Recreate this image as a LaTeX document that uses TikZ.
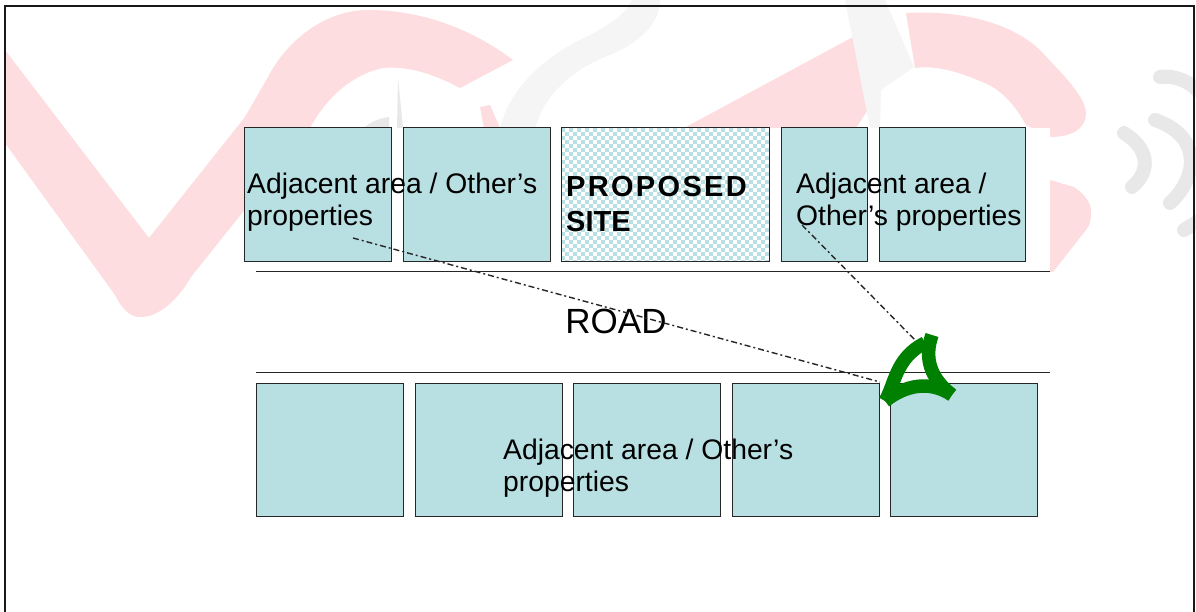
\documentclass[tikz,border=0pt]{standalone}
\usepackage{fontspec}
\setmainfont{Liberation Sans}
\definecolor{boxfill}{RGB}{184,223,226}
\definecolor{wmpink}{RGB}{253,221,224}
\definecolor{wmgray}{RGB}{232,232,232}
\definecolor{wmpale}{RGB}{245,245,245}
\definecolor{sightgreen}{RGB}{0,128,0}
\tikzset{
  plot/.style={draw=black!85,line width=1pt,fill=boxfill,inner sep=0pt,outer sep=0pt},
  sitebox/.style={draw=black!85,line width=1pt,inner sep=0pt,outer sep=0pt},
  lbl/.style={anchor=west,align=left,inner sep=0pt,font=\fontsize{28.3}{31.5}\selectfont},
  sight/.style={black!85,line width=1.4pt,dash pattern=on 6pt off 3pt on 2pt off 3pt},
  roadline/.style={black!85,line width=1pt},
  arcg/.style={sightgreen,line width=13.5pt},
  wifi/.style={wmgray,line width=14pt,line cap=round}
}
\begin{document}
\begin{tikzpicture}[x=1pt,y=-1pt]
\useasboundingbox (0,0) rectangle (1196,612);
\fill[white] (0,0) rectangle (1196,612);
% watermark
\fill[wmpink] (5,50) -- (149,238) -- (245,117) -- (268,77) .. controls (290,35) and (330,10) .. (368,10) .. controls (430,10) and (480,35) .. (513,60) -- (460,88) .. controls (430,72) and (405,66) .. (383,68) .. controls (350,75) and (325,100) .. (310,128) -- (191,277) .. controls (178,300) and (155,322) .. (134,316) .. controls (127,314) and (120,305) .. (115,295) -- (5,143) -- cycle;
\fill[wmpink] (480,107) -- (490,105) -- (500,128) -- (484,128) -- cycle;
\fill[wmpink] (684,128) -- (853,37) -- (881,90) -- (856,128) -- cycle;
\fill[wmpink] (906,13) .. controls (960,10) and (1010,22) .. (1040,50) .. controls (1060,72) and (1085,95) .. (1086,113) .. controls (1086,130) and (1070,137) .. (1050,137) -- (1026,125) .. controls (1015,105) and (1000,88) .. (982,82) .. controls (960,72) and (935,65) .. (915,68) -- cycle;
\fill[wmpink] (1050,180) -- (1074,187) .. controls (1086,195) and (1092,205) .. (1091,213) .. controls (1091,220) and (1090,225) .. (1086,230) -- (1053,272) -- (1050,272) -- cycle;
\fill[wmgray] (398,78) -- (403,128) -- (397,128) -- cycle;
\fill[wmgray] (364,128) .. controls (370,122) and (380,118) .. (389,117) -- (389,128) -- cycle;
\fill[wmpale] (500,128) .. controls (510,90) and (540,60) .. (580,40) .. controls (610,25) and (625,15) .. (632,0) -- (660,0) .. controls (660,20) and (645,40) .. (610,55) .. controls (570,70) and (545,95) .. (535,128) -- cycle;
\fill[wmpale] (845,0) -- (885,0) -- (914,67) -- (881,90) -- (880,128) -- (870,128) -- cycle;
\draw[wifi] (1124,133) .. controls (1148,148) and (1152,170) .. (1132,187);
\draw[wifi] (1155,120) .. controls (1200,135) and (1200,175) .. (1170,203);
\draw[wifi] (1160,77) .. controls (1175,75) and (1190,82) .. (1197,90);
\draw[wifi] (1184,230) -- (1197,222);
% white patch
\fill[white] (245,128) rectangle (1050,372);
% plots
\node[plot,minimum width=147pt,minimum height=134pt] (t1) at (317.5,195) {};
\node[plot,minimum width=147pt,minimum height=134pt] (t2) at (476.5,195) {};
\node[sitebox,fill=white,minimum width=208pt,minimum height=134pt] (site) at (665,195) {};
\begin{scope}
\clip (561,128) rectangle (769,262);
\foreach \i in {0,...,52}{\foreach \j in {0,...,33}{
  \pgfmathtruncatemacro{\k}{mod(\i+\j,2)}
  \ifnum\k=0 \fill[boxfill] (561+\i*4,128+\j*4) rectangle ++(4,4);\fi
}}
\end{scope}
\draw[black!85,line width=1pt] (site.north west) rectangle (site.south east);
\node[plot,minimum width=86pt,minimum height=134pt] (t4) at (824,195) {};
\node[plot,minimum width=146pt,minimum height=134pt] (t5) at (952,195) {};
\node[plot,minimum width=147pt,minimum height=133pt] (b1) at (330,449.5) {};
\node[plot,minimum width=147pt,minimum height=133pt] (b2) at (488.5,449.5) {};
\node[plot,minimum width=147pt,minimum height=133pt] (b3) at (646.5,449.5) {};
\node[plot,minimum width=147pt,minimum height=133pt] (b4) at (805.5,449.5) {};
\node[plot,minimum width=147pt,minimum height=133pt] (b5) at (964,449.5) {};
% road edges
\coordinate (r1a) at (256,272); \coordinate (r1b) at (1050,272);
\coordinate (r2a) at (256,372); \coordinate (r2b) at (1050,372);
\draw[roadline] (r1a) -- (r1b);
\draw[roadline] (r2a) -- (r2b);
% labels
\node[lbl] (la) at (247,202) {Adjacent area / Other’s\\properties};
\node[lbl] (lb) at (796,202) {Adjacent area /\\Other’s properties};
\node[lbl] (lc) at (503,468) {Adjacent area / Other’s\\properties};
\node[lbl,anchor=center,font=\fontsize{35}{36}\selectfont] (road) at (616,321) {ROAD};
\node[lbl,font=\fontsize{29}{35}\selectfont\bfseries,anchor=west] (ps) at (566,204) {\addfontfeature{LetterSpace=8}PROPOSED\\SITE};
% sight lines
\coordinate (s1) at (353,238); \coordinate (e1) at (880,382);
\coordinate (s2) at (802,225); \coordinate (e2) at (915,340);
\draw[sight] (s1) -- (e1);
\draw[sight] (s2) -- (e2);
% viewing mark
\coordinate (g1) at (885,401); \coordinate (g2) at (925,343); \coordinate (g3) at (932,335); \coordinate (g4) at (952,395);
\draw[arcg] (g1) .. controls (895,385) and (895,358) .. (g2);
\draw[arcg] (g3) .. controls (924,358) and (930,378) .. (g4);
\draw[arcg] (g1) .. controls (905,385) and (930,380) .. (g4);
% frame
\coordinate (f1) at (5,612); \coordinate (f2) at (5,6.5); \coordinate (f3) at (1194,6.5); \coordinate (f4) at (1194,612);
\draw[black!90,line width=2pt] (f1) -- (f2) -- (f3) -- (f4);
\end{tikzpicture}
\end{document}
